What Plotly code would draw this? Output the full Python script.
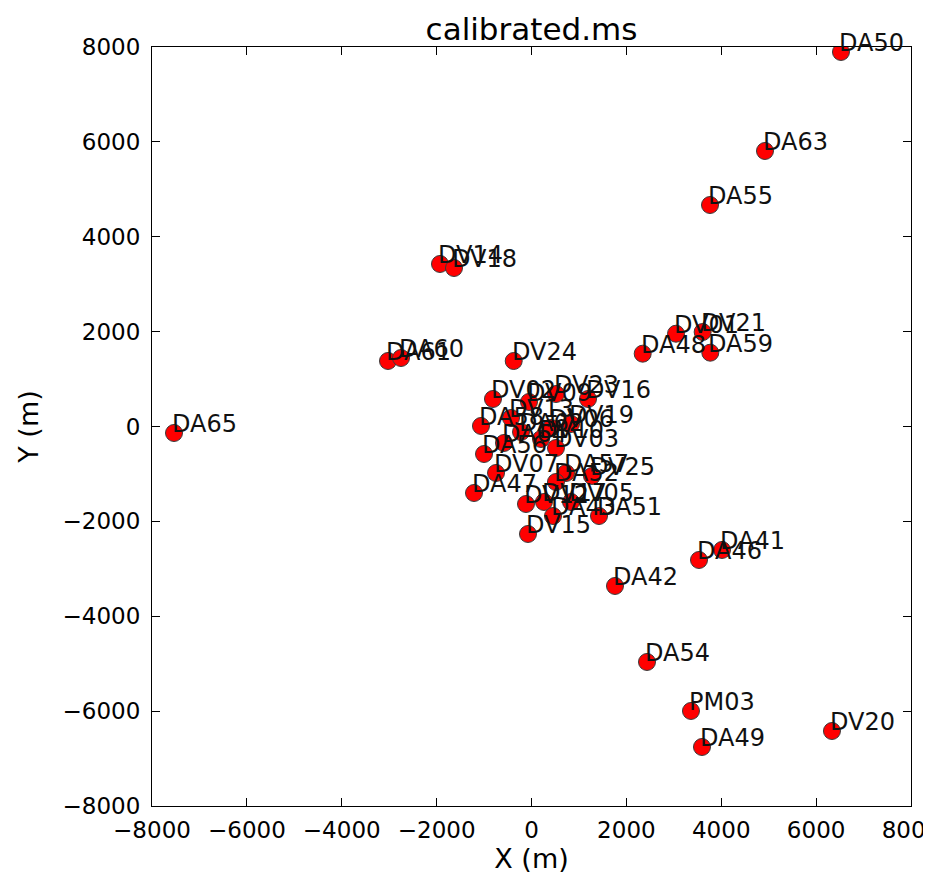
import plotly.graph_objects as go

antennas = ["DA50", "DA63", "DA55", "DV14", "DV18", "DA61", "DA60", "DV24",
            "DA48", "DV01", "DV21", "DA59", "DA65", "DA41", "DA46", "DA42",
            "DA54", "PM03", "DA49", "DV20",
            "DV02", "DV09", "DV23", "DV16", "DA58", "DV13", "DA62", "DV19",
            "DV06", "DV10", "DA64", "DV03", "DA56", "DV07", "DA57", "DV25",
            "DA52", "DA47", "DV12", "DV17", "DV05", "DA43", "DA51", "DV15"]
x_m = [6524, 4922, 3763, -1929, -1634, -3025, -2751, -375,
       2344, 3046, 3608, 3769, -7536, 4016, 3531, 1760,
       2435, 3362, 3594, 6334,
       -812, -53, 516, 1191, -1065, -432, -221, 833,
       411, 200, -580, 516, -1001, -748, 727, 1275,
       516, -1212, -116, 263, 833, 453, 1423, -74]
y_m = [7895, 5808, 4669, 3426, 3341, 1381, 1444, 1381,
       1535, 1956, 1992, 1556, -137, -2603, -2814, -3362,
       -4964, -5997, -6756, -6419,
       580, 517, 685, 580, 11, 179, -116, 53,
       -31, -263, -348, -453, -580, -980, -980, -1043,
       -1170, -1402, -1634, -1591, -1591, -1887, -1887, -2266]

tick_vals = [-8000, -6000, -4000, -2000, 0, 2000, 4000, 6000, 8000]
tick_text = ["\u22128000", "\u22126000", "\u22124000", "\u22122000", "0",
             "2000", "4000", "6000", "8000"]

FONT = "DejaVu Sans"

fig = go.Figure()
fig.add_trace(go.Scatter(
    x=x_m, y=y_m, mode="markers",
    marker=dict(size=17, color="#ff0000", line=dict(color="#3a3a3a", width=1)),
    hoverinfo="text", text=antennas, showlegend=False,
))

for name, xv, yv in zip(antennas, x_m, y_m):
    fig.add_annotation(x=xv, y=yv, text=name, showarrow=False,
                       xanchor="left", yanchor="bottom", xshift=-4, yshift=-7,
                       font=dict(family=FONT, size=24, color="#111111"))

axis_common = dict(
    range=[-8000, 8000], tickvals=tick_vals, ticktext=tick_text,
    ticks="inside", ticklen=8, tickcolor="black", tickwidth=1,
    showline=True, linecolor="black", linewidth=1, mirror="ticks",
    showgrid=False, zeroline=False, automargin=False,
    tickfont=dict(family=FONT, size=23, color="black"),
)

fig.update_xaxes(**axis_common, ticklabelstandoff=3, ticklabeloverflow="allow",
                 title=dict(text="X (m)", font=dict(family=FONT, size=27, color="black"), standoff=4))
fig.update_yaxes(**axis_common, ticklabelstandoff=6, ticklabeloverflow="allow",
                 title=dict(text="Y (m)", font=dict(family=FONT, size=27, color="black"), standoff=16))

fig.update_layout(
    width=931, height=873,
    margin=dict(l=144, r=28, t=39, b=75),
    paper_bgcolor="white", plot_bgcolor="white",
    title=dict(text="calibrated.ms", x=0.5, xref="paper", xanchor="center",
               y=1, yref="paper", yanchor="bottom", pad=dict(b=7),
               font=dict(family=FONT, size=31, color="black")),
)

fig.write_html("out.html")
